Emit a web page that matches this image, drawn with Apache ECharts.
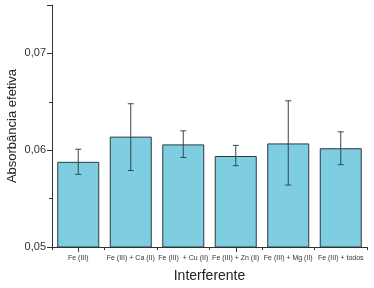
<!DOCTYPE html>
<html>
<head>
<meta charset="utf-8">
<script src="https://cdn.jsdelivr.net/npm/echarts@6/dist/echarts.min.js"></script>
<style>
  html, body { margin: 0; padding: 0; background: #fff; }
  #chart { width: 374px; height: 288px; }
</style>
</head>
<body>
<div id="chart"></div>
<script>
// categories and values
const categories = ['Fe (III)', 'Fe (III) + Ca (II)', 'Fe (III)  + Cu (II)', 'Fe (III) + Zn (II)', 'Fe (III) + Mg (II)', 'Fe (III) + todos'];
const absorbance = [0.0588, 0.0614, 0.0606, 0.0594, 0.0607, 0.0602];
const errLow = [0.0575, 0.0579, 0.05925, 0.0584, 0.0564, 0.0585];
const errHigh = [0.0601, 0.0648, 0.0620, 0.0605, 0.0651, 0.0619];

const chart = echarts.init(document.getElementById('chart'));
const font = 'Liberation Sans, Arial, sans-serif';

const option = {
  animation: false,
  backgroundColor: '#fff',
  grid: { left: 52, right: 7, top: 5, bottom: 41, outerBoundsMode: 'none', containLabel: false },
  xAxis: [
    {
      type: 'category',
      data: categories,
      name: 'Interferente',
      nameLocation: 'middle',
      nameGap: 22,
      nameMoveOverlap: false,
      nameTextStyle: { fontFamily: font, fontSize: 14, color: '#222' },
      axisLine: { lineStyle: { color: '#333', width: 1 } },
      axisTick: { show: true, length: 3, lineStyle: { color: '#333' } },
      axisLabel: { fontFamily: font, fontSize: 7, color: '#333', margin: 8, interval: 0 }
    },
    {
      type: 'category',
      data: categories,
      position: 'bottom',
      axisLine: { show: false },
      axisTick: { show: true, alignWithLabel: true, length: 5, lineStyle: { color: '#333' } },
      axisLabel: { show: false }
    }
  ],
  yAxis: {
    type: 'value',
    min: 0.05,
    max: 0.075,
    interval: 0.01,
    name: 'Absorbância efetiva',
    nameLocation: 'middle',
    nameGap: 33,
    nameMoveOverlap: false,
    nameTextStyle: { fontFamily: font, fontSize: 13, color: '#222' },
    axisLine: { show: true, lineStyle: { color: '#333', width: 1 } },
    axisTick: { show: true, length: 5, lineStyle: { color: '#333' } },
    minorTick: { show: true, splitNumber: 2, length: 3, lineStyle: { color: '#333' } },
    splitLine: { show: false },
    axisLabel: {
      fontFamily: font, fontSize: 11, color: '#333', margin: 6,
      showMaxLabel: false,
      formatter: v => v.toFixed(2).replace('.', ',')
    }
  },
  series: [
    {
      type: 'bar',
      data: absorbance,
      barWidth: '80%',
      itemStyle: { color: '#7ecde0', borderColor: '#2b3a3e', borderWidth: 1 }
    },
    {
      type: 'custom',
      data: categories.map((c, i) => [i, errLow[i], errHigh[i]]),
      z: 10,
      renderItem: (params, api) => {
        const x = api.value(0);
        const lo = api.coord([x, api.value(1)]);
        const hi = api.coord([x, api.value(2)]);
        const hw = 3;
        const style = { stroke: '#2f4a4e', lineWidth: 1 };
        return {
          type: 'group',
          children: [
            { type: 'line', shape: { x1: lo[0], y1: lo[1], x2: hi[0], y2: hi[1] }, style },
            { type: 'line', shape: { x1: lo[0] - hw, y1: lo[1], x2: lo[0] + hw, y2: lo[1] }, style },
            { type: 'line', shape: { x1: hi[0] - hw, y1: hi[1], x2: hi[0] + hw, y2: hi[1] }, style }
          ]
        };
      }
    }
  ]
};

chart.setOption(option);
</script>
</body>
</html>
